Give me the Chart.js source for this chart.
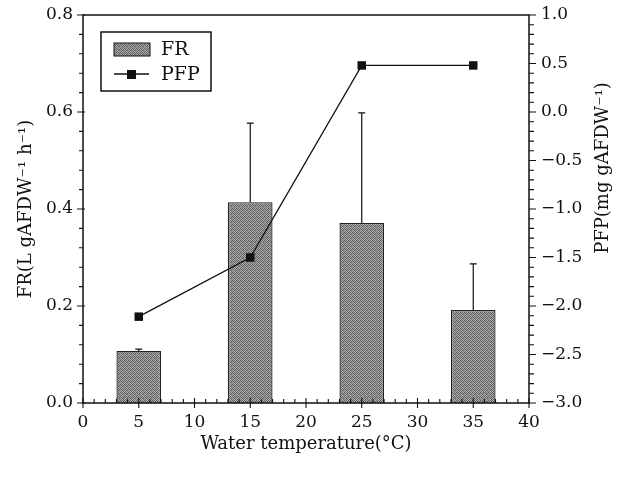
<!DOCTYPE html>
<html>
<head>
<meta charset="utf-8">
<script src="https://cdn.jsdelivr.net/npm/chart.js@4.4.0/dist/chart.umd.min.js"></script>
<style>
  html, body { margin: 0; padding: 0; background: #fff; }
  #wrap { width: 622px; height: 477px; }
</style>
</head>
<body>
<div id="wrap"><canvas id="myChart" width="622" height="477"></canvas></div>
<script>
// values
var temps = [5, 15, 25, 35];
var frValues = [0.107, 0.414, 0.371, 0.192];
var frErrTop = [0.111, 0.577, 0.598, 0.287];
var pfpValues = [-2.11, -1.50, 0.48, 0.48];
var xTicks = [0, 5, 10, 15, 20, 25, 30, 35, 40];

var FONT = "'DejaVu Serif', 'Liberation Serif', serif";
var INK = "#111";

// stippled grey fill for the bars
var makeStipple = function () {
  var c = document.createElement("canvas");
  c.width = 4; c.height = 4;
  var g = c.getContext("2d");
  var tones = ["#555555", "#a4a4a4", "#747474", "#b0b0b0",
               "#acacac", "#646464", "#9a9a9a", "#5a5a5a",
               "#7c7c7c", "#a8a8a8", "#606060", "#949494",
               "#a0a0a0", "#6c6c6c", "#b4b4b4", "#707070"];
  for (var i = 0; i < 16; i++) {
    g.fillStyle = tones[i];
    g.fillRect(i % 4, Math.floor(i / 4), 1, 1);
  }
  return g.createPattern(c, "repeat");
};
var stipple = makeStipple();

var frData = temps.map(function (t, i) { return { x: t, y: frValues[i] }; });
var pfpData = temps.map(function (t, i) { return { x: t, y: pfpValues[i] }; });

var noPad = function (s) {
  s.paddingTop = 0; s.paddingBottom = 0; s.paddingLeft = 0; s.paddingRight = 0;
};

// frame, tick marks and error bars
var decorPlugin = {
  id: "decor",
  afterDatasetsDraw: function (chart) {
    var ctx = chart.ctx;
    var a = chart.chartArea;
    var sx = chart.scales.x, sy = chart.scales.y, sy2 = chart.scales.y2;
    ctx.save();
    ctx.strokeStyle = INK;

    // error bars
    ctx.lineWidth = 1.2;
    for (var i = 0; i < temps.length; i++) {
      var px = sx.getPixelForValue(temps[i]);
      var y0 = sy.getPixelForValue(frValues[i]);
      var y1 = sy.getPixelForValue(frErrTop[i]);
      ctx.beginPath();
      ctx.moveTo(px, y0); ctx.lineTo(px, y1);
      ctx.moveTo(px - 3.5, y1); ctx.lineTo(px + 3.5, y1);
      ctx.stroke();
    }

    // frame
    ctx.lineWidth = 1.5;
    ctx.strokeRect(a.left, a.top, a.right - a.left, a.bottom - a.top);

    ctx.lineWidth = 1.1;
    ctx.beginPath();
    // x ticks: minor inward, major across
    for (var v = 0; v <= 40; v++) {
      var p = sx.getPixelForValue(v);
      if (v % 5 === 0) { ctx.moveTo(p, a.bottom - 5); ctx.lineTo(p, a.bottom + 5); }
      else { ctx.moveTo(p, a.bottom - 4); ctx.lineTo(p, a.bottom); }
    }
    // left ticks
    for (var k = 0; k <= 20; k++) {
      var yl = sy.getPixelForValue(k * 0.04);
      if (k % 5 === 0) { ctx.moveTo(a.left - 6, yl); ctx.lineTo(a.left + 2, yl); }
      else { ctx.moveTo(a.left - 4, yl); ctx.lineTo(a.left, yl); }
    }
    // right ticks
    for (var m = 0; m <= 40; m++) {
      var yr = sy2.getPixelForValue(-3 + m * 0.1);
      if (m % 5 === 0) { ctx.moveTo(a.right, yr); ctx.lineTo(a.right + 7, yr); }
      else { ctx.moveTo(a.right, yr); ctx.lineTo(a.right + 5, yr); }
    }
    ctx.stroke();

    // right title, reading upwards
    ctx.fillStyle = INK;
    ctx.font = "18px " + FONT;
    ctx.textAlign = "center";
    ctx.textBaseline = "middle";
    ctx.translate(603, 168);
    ctx.rotate(-Math.PI / 2);
    ctx.fillText("PFP(mg gAFDW\u207B\u00B9)", 0, 0);
    ctx.restore();

    // legend box
    var frSet = chart.data.datasets.filter(function (d) { return d.type !== "line"; })[0];
    var pfpSet = chart.data.datasets.filter(function (d) { return d.type === "line"; })[0];
    ctx.save();
    ctx.strokeStyle = INK;
    ctx.lineWidth = 1.5;
    ctx.strokeRect(101, 32, 110, 59);
    ctx.fillStyle = stipple;
    ctx.fillRect(114, 43, 36, 13);
    ctx.lineWidth = 1;
    ctx.strokeRect(114, 43, 36, 13);
    ctx.lineWidth = 1.3;
    ctx.beginPath();
    ctx.moveTo(114, 74); ctx.lineTo(149, 74);
    ctx.stroke();
    ctx.fillStyle = INK;
    ctx.fillRect(127, 70, 9, 9);
    ctx.font = "19px " + FONT;
    ctx.textAlign = "left";
    ctx.textBaseline = "middle";
    ctx.fillText(frSet.label, 161, 50);
    ctx.fillText(pfpSet.label, 161, 75);
    ctx.restore();
  }
};

var fmt = function (v) {
  var s = Math.abs(v).toFixed(1);
  return v < 0 ? "\u2212" + s : s;
};

new Chart(document.getElementById("myChart"), {
  type: "bar",
  data: {
    datasets: [
      {
        type: "line",
        label: "PFP",
        data: pfpData,
        yAxisID: "y2",
        borderColor: INK,
        borderWidth: 1.3,
        pointStyle: "rect",
        pointRadius: 6,
        pointBackgroundColor: INK,
        pointBorderWidth: 0,
        tension: 0,
        order: 0
      },
      {
        label: "FR",
        data: frData,
        yAxisID: "y",
        backgroundColor: stipple,
        borderColor: "#222",
        borderWidth: 1.3,
        barPercentage: 0.8,
        categoryPercentage: 1,
        order: 1
      }
    ]
  },
  options: {
    responsive: false,
    animation: false,
    layout: { padding: { top: 15, left: 0, right: 0, bottom: 0 } },
    plugins: { legend: { display: false }, tooltip: { enabled: false } },
    scales: {
      x: {
        type: "linear",
        min: 0, max: 40,
        offset: false,
        afterBuildTicks: function (s) { s.ticks = xTicks.map(function (v) { return { value: v }; }); },
        grid: { display: false, drawTicks: false, offset: false },
        border: { display: false },
        ticks: { color: INK, font: { family: FONT, size: 17 }, padding: 9, maxRotation: 0 },
        title: { display: true, text: "Water temperature(\u00B0C)", color: INK,
                 font: { family: FONT, size: 18 }, padding: { top: 0, bottom: 22 } },
        afterFit: function (s) { s.height = 74; noPad(s); }
      },
      y: {
        position: "left",
        min: 0, max: 0.8,
        ticks: { stepSize: 0.2, color: INK, font: { family: FONT, size: 17 }, padding: 10,
                 callback: function (v) { return fmt(v); } },
        grid: { display: false, drawTicks: false },
        border: { display: false },
        title: { display: true, text: "FR(L gAFDW\u207B\u00B9 h\u207B\u00B9)", color: INK,
                 font: { family: FONT, size: 18 }, padding: { top: 16, bottom: 0 } },
        afterFit: function (s) { s.width = 83; noPad(s); }
      },
      y2: {
        position: "right",
        min: -3, max: 1,
        ticks: { stepSize: 0.5, color: INK, font: { family: FONT, size: 17 }, padding: 12,
                 callback: function (v) { return fmt(v); } },
        grid: { display: false, drawTicks: false },
        border: { display: false },
        afterFit: function (s) { s.width = 93; noPad(s); }
      }
    }
  },
  plugins: [decorPlugin]
});
</script>
</body>
</html>
